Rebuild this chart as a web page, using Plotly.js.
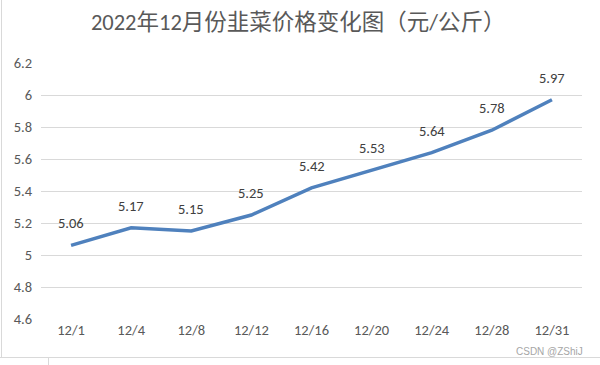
<!DOCTYPE html>
<html>
<head>
<meta charset="utf-8">
<script src="https://cdn.plot.ly/plotly-3.0.1.min.js"></script>
<style>
html,body{margin:0;padding:0;background:#fff;}
#wrap{position:relative;width:600px;height:365px;overflow:hidden;}
#chart{position:absolute;left:0;top:0;width:600px;height:365px;}
.b{position:absolute;background:#d9d9d9;}
</style>
</head>
<body>
<div id="wrap">
<div id="chart"></div>
<div class="b" style="left:1px;top:0;width:1px;height:357px;"></div>
<div class="b" style="left:0;top:357px;width:600px;height:1px;"></div>
<div class="b" style="left:48px;top:357px;width:1px;height:8px;"></div>
</div>
<script>
const categories = ["12/1","12/4","12/8","12/12","12/16","12/20","12/24","12/28","12/31"];
const prices = [5.06,5.17,5.15,5.25,5.42,5.53,5.64,5.78,5.97];
const yTicks = [4.6,4.8,5,5.2,5.4,5.6,5.8,6,6.2];
const yTickText = ["4.6","4.8","5","5.2","5.4","5.6","5.8","6","6.2"];
const titleText = "2022年12月份韭菜价格变化图（元/公斤）";

const font = "Carlito, 'Liberation Sans', 'Noto Sans CJK SC', sans-serif";

const annotations = categories.map((c,i)=>({
  x: c, y: prices[i], xref:'x', yref:'y',
  text: prices[i].toFixed(2), showarrow:false, yshift:22,
  font:{family:font,size:14.5,color:'#404040'}
}));
annotations.push({
  xref:'paper', yref:'paper', x:1.006, y:-0.125, xanchor:'right', yanchor:'middle',
  text:'CSDN @ZShiJ', showarrow:false,
  font:{family:"'Liberation Sans', sans-serif", size:10, color:'#a6a6a6'}
});

Plotly.newPlot('chart', [{
  x: categories, y: prices, type:'scatter', mode:'lines',
  line:{color:'#4f81bd', width:3.5}, hoverinfo:'none'
}], {
  width:600, height:365,
  margin:{l:41, r:18, t:63, b:46},
  paper_bgcolor:'rgba(0,0,0,0)', plot_bgcolor:'rgba(0,0,0,0)',
  title:{text:titleText, x:0.497, xanchor:'center', y:0.94, yanchor:'middle',
    font:{family:"Carlito, 'Noto Sans CJK SC', sans-serif", size:22.5, color:'#595959'}},
  xaxis:{type:'category', showgrid:false, zeroline:false, showline:false, ticks:'',
    tickfont:{family:font, size:14.5, color:'#595959'}, range:[-0.5,8.5], fixedrange:true},
  yaxis:{range:[4.6,6.2], tickvals:yTicks, ticktext:yTickText, showgrid:true,
    gridcolor:'#d9d9d9', gridwidth:1, zeroline:false, showline:false, ticks:'',
    ticklabelstandoff:8,
    tickfont:{family:font, size:14.5, color:'#595959'}, fixedrange:true},
  annotations: annotations,
  showlegend:false
}, {staticPlot:true});
</script>
</body>
</html>
